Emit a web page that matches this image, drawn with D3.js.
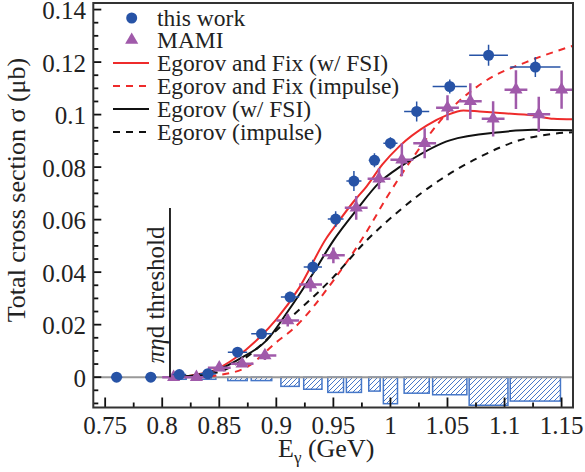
<!DOCTYPE html>
<html><head><meta charset="utf-8">
<script src="https://cdn.jsdelivr.net/npm/d3@7"></script>
<style>body{margin:0;background:#fff}svg{display:block}</style>
</head><body>
<script>
// ---- data ----
const thisX    = [0.76, 0.79, 0.815, 0.84, 0.866, 0.887, 0.912, 0.932, 0.952, 0.968, 0.986, 1.0, 1.023, 1.052, 1.086, 1.127];
const thisY    = [0, 0, 0.001, 0.0013, 0.0095, 0.0165, 0.0305, 0.042, 0.0602, 0.0747, 0.0826, 0.0891, 0.1012, 0.1107, 0.1226, 0.1181];
const thisYErr = [0.0004, 0.0005, 0.0008, 0.001, 0.0015, 0.0018, 0.002, 0.0027, 0.003, 0.0038, 0.0027, 0.0023, 0.0038, 0.0027, 0.004, 0.0038];
const thisXErr = [0.005, 0.005, 0.006, 0.007, 0.0085, 0.009, 0.008, 0.008, 0.0069, 0.0066, 0.005, 0.0062, 0.011, 0.015, 0.017, 0.022];
const thisSys  = [0, 0, 0.0008, 0.0008, 0.0013, 0.0013, 0.0035, 0.0046, 0.0058, 0.0058, 0.0053, 0.0101, 0.0061, 0.0067, 0.0107, 0.0091];

const mamiX    = [0.81, 0.83, 0.85, 0.87, 0.89, 0.91, 0.93, 0.95, 0.97, 0.99, 1.01, 1.03, 1.05, 1.07, 1.09, 1.11, 1.13, 1.15];
const mamiY    = [0, 0, 0.0036, 0.0051, 0.0083, 0.0216, 0.0353, 0.0464, 0.0645, 0.0756, 0.0828, 0.0891, 0.1026, 0.1051, 0.0984, 0.1095, 0.1001, 0.1095];
const mamiYErr = [0.0004, 0.0005, 0.0012, 0.0012, 0.0018, 0.0023, 0.0028, 0.003, 0.0045, 0.004, 0.0063, 0.0057, 0.0048, 0.0068, 0.0067, 0.0074, 0.0067, 0.0073];
const mamiXErr = [0.01, 0.01, 0.01, 0.01, 0.01, 0.01, 0.01, 0.01, 0.01, 0.01, 0.01, 0.01, 0.01, 0.01, 0.01, 0.01, 0.01, 0.01];

const efFsiX = [0.807, 0.82, 0.83, 0.845, 0.865, 0.885, 0.9, 0.92, 0.944, 0.952, 0.968, 0.979, 0.993, 1.008, 1.032, 1.049, 1.064, 1.078, 1.096, 1.125, 1.143, 1.16];
const efFsiY = [0, 0.0003, 0.001, 0.0026, 0.0076, 0.015, 0.022, 0.034, 0.053, 0.0578, 0.067, 0.0726, 0.081, 0.088, 0.0959, 0.0997, 0.1016, 0.1012, 0.1006, 0.0997, 0.0984, 0.0982];
const efImpX = [0.83, 0.85, 0.874, 0.9, 0.915, 0.95, 0.978, 0.997, 1.02, 1.049, 1.084, 1.119, 1.16];
const efImpY = [0, 0.0008, 0.0038, 0.0133, 0.0185, 0.0368, 0.0546, 0.0686, 0.0838, 0.1003, 0.113, 0.12, 0.1262];
const egFsiX = [0.807, 0.83, 0.85, 0.87, 0.8915, 0.91, 0.932, 0.95, 0.97, 0.99, 1.008, 1.017, 1.052, 1.096, 1.125, 1.16];
const egFsiY = [0, 0.0008, 0.003, 0.0075, 0.014, 0.025, 0.0394, 0.052, 0.0635, 0.074, 0.08, 0.0825, 0.0902, 0.0933, 0.0942, 0.094];
const egImpX = [0.82, 0.85, 0.875, 0.9, 0.95, 0.979, 1.008, 1.043, 1.078, 1.113, 1.143, 1.16];
const egImpY = [0, 0.002, 0.008, 0.0178, 0.0381, 0.052, 0.0635, 0.075, 0.0838, 0.0902, 0.0927, 0.0933];

const thresholdX = 0.8068;
const xTicks = [0.75, 0.8, 0.85, 0.9, 0.95, 1, 1.05, 1.1, 1.15];
const xTickLabels = ["0.75", "0.8", "0.85", "0.9", "0.95", "1", "1.05", "1.1", "1.15"];
const yTicks = [0, 0.02, 0.04, 0.06, 0.08, 0.1, 0.12, 0.14];
const yTickLabels = ["0", "0.02", "0.04", "0.06", "0.08", "0.1", "0.12", "0.14"];
const legendLabels = ["this work", "MAMI", "Egorov and Fix (w/ FSI)", "Egorov and Fix (impulse)", "Egorov (w/ FSI)", "Egorov (impulse)"];

// ---- drawing ----
const W = 585, H = 472;
const L = 93.3, R = 573, T = 3, B = 407.5;
const BLUE = "#2753a6", PURPLE = "#a05aaa", RED = "#ee2b2b", HATCH = "#4677c8";
const FONT = "'Liberation Serif', Tinos, 'Times New Roman', Times, 'DejaVu Serif', serif";

const x = d3.scaleLinear().domain([0.7396, 1.1600]).range([L, R]);
const y = d3.scaleLinear().domain([-0.01155, 0.1425]).range([B, T]);

const svg = d3.select("body").append("svg").attr("width", W).attr("height", H)
  .attr("font-family", FONT).style("font-family", FONT).attr("fill", "#222");
const defs = svg.append("defs");
defs.append("clipPath").attr("id", "clip").append("rect").attr("x", L).attr("y", T).attr("width", R - L).attr("height", B - T);
const pat = defs.append("pattern").attr("id", "hatch").attr("patternUnits", "userSpaceOnUse").attr("width", 5).attr("height", 5);
pat.append("path").attr("d", "M-1,6 L6,-1 M-2,1 L1,-2 M4,7 L7,4").attr("stroke", HATCH).attr("stroke-width", 1);

const g = svg.append("g").attr("clip-path", "url(#clip)");

// systematic bars
g.selectAll("rect.sys").data(thisX.map((d, i) => i).filter(i => thisSys[i] > 0)).enter().append("rect")
  .attr("x", i => x(thisX[i] - thisXErr[i])).attr("width", i => x(thisX[i] + thisXErr[i]) - x(thisX[i] - thisXErr[i]))
  .attr("y", y(0)).attr("height", i => y(-thisSys[i]) - y(0))
  .attr("fill", "url(#hatch)").attr("stroke", HATCH).attr("stroke-width", 1.5);

// zero line
g.append("line").attr("x1", L).attr("x2", R).attr("y1", y(0)).attr("y2", y(0)).attr("stroke", "#999").attr("stroke-width", 2);

// threshold
svg.append("line").attr("x1", x(thresholdX)).attr("x2", x(thresholdX)).attr("y1", 208).attr("y2", y(0)).attr("stroke", "#111").attr("stroke-width", 1.8);
const tt = svg.append("text").attr("transform", `translate(${x(thresholdX) - 6},${y(0) - 14}) rotate(-90)`).attr("font-size", 25);
tt.append("tspan").attr("font-style", "italic").text("πη");
tt.append("tspan").text("d threshold");

// curves
const line = d3.line().x(d => x(d[0])).y(d => y(d[1])).curve(d3.curveMonotoneX);
const curves = [
  [efFsiX, efFsiY, RED, null],
  [efImpX, efImpY, RED, "7,6"],
  [egFsiX, egFsiY, "#111", null],
  [egImpX, egImpY, "#111", "7,6"]
];
curves.forEach(([cx, cy, col, dash]) => {
  g.append("path").attr("d", line(cx.map((v, i) => [v, cy[i]]))).attr("fill", "none").attr("stroke", col).attr("stroke-width", 2).attr("stroke-dasharray", dash);
});

// MAMI
mamiX.forEach((v, i) => {
  g.append("line").attr("x1", x(v - mamiXErr[i])).attr("x2", x(v + mamiXErr[i])).attr("y1", y(mamiY[i])).attr("y2", y(mamiY[i])).attr("stroke", PURPLE).attr("stroke-width", 2.5);
  g.append("line").attr("x1", x(v)).attr("x2", x(v)).attr("y1", y(mamiY[i] - mamiYErr[i])).attr("y2", y(mamiY[i] + mamiYErr[i])).attr("stroke", PURPLE).attr("stroke-width", 2.5);
});
const tri = d3.symbol().type(d3.symbolTriangle).size(75);
g.selectAll("path.mami").data(mamiX.map((v, i) => [v, mamiY[i]])).enter().append("path")
  .attr("d", tri).attr("transform", d => `translate(${x(d[0])},${y(d[1])})`).attr("fill", PURPLE);

// this work
thisX.forEach((v, i) => {
  g.append("line").attr("x1", x(v - thisXErr[i])).attr("x2", x(v + thisXErr[i])).attr("y1", y(thisY[i])).attr("y2", y(thisY[i])).attr("stroke", BLUE).attr("stroke-width", 1.5);
  g.append("line").attr("x1", x(v)).attr("x2", x(v)).attr("y1", y(thisY[i] - thisYErr[i])).attr("y2", y(thisY[i] + thisYErr[i])).attr("stroke", BLUE).attr("stroke-width", 1.5);
});
g.selectAll("circle.tw").data(thisX.map((v, i) => [v, thisY[i]])).enter().append("circle")
  .attr("cx", d => x(d[0])).attr("cy", d => y(d[1])).attr("r", 5.5).attr("fill", BLUE);

// axes (ticks inside)
const xMinor = d3.range(0.75, 1.1501, 0.025);
const yMinor = d3.range(-0.01, 0.1401, 0.005);
svg.append("g").selectAll("line").data(xMinor).enter().append("line")
  .attr("x1", d => x(d)).attr("x2", d => x(d)).attr("y1", B)
  .attr("y2", d => B - (xTicks.some(t => Math.abs(t - d) < 1e-6) ? 10 : 5)).attr("stroke", "#111").attr("stroke-width", 1.8);
svg.append("g").selectAll("line").data(yMinor).enter().append("line")
  .attr("y1", d => y(d)).attr("y2", d => y(d)).attr("x1", L)
  .attr("x2", d => L + (yTicks.some(t => Math.abs(t - d) < 1e-6) ? 8 : 5)).attr("stroke", "#111").attr("stroke-width", 1.8);
svg.append("g").selectAll("text").data(xTicks).enter().append("text")
  .attr("x", d => x(d)).attr("y", 434).attr("text-anchor", "middle").attr("font-size", 25).text((d, i) => xTickLabels[i]);
svg.append("g").selectAll("text").data(yTicks).enter().append("text")
  .attr("x", 86).attr("y", d => y(d)).attr("dy", "0.38em").attr("text-anchor", "end").attr("font-size", 25).text((d, i) => yTickLabels[i]);

// frame
svg.append("rect").attr("x", L).attr("y", T).attr("width", R - L).attr("height", B - T).attr("fill", "none").attr("stroke", "#333").attr("stroke-width", 2);

// axis titles
const xt = svg.append("text").attr("x", 278).attr("y", 457).attr("font-size", 26);
xt.append("tspan").text("E");
xt.append("tspan").attr("font-size", 17).attr("dy", 6).text("γ");
xt.append("tspan").attr("dy", -6).text(" (GeV)");
svg.append("text").attr("transform", "translate(25,190) rotate(-90)").attr("text-anchor", "middle").attr("font-size", 26).text("Total cross section σ (μb)");

// legend
const lg = svg.append("g");
const rows = [18, 40, 63, 86, 109, 132];
lg.append("circle").attr("cx", 131.7).attr("cy", rows[0]).attr("r", 5.5).attr("fill", BLUE);
lg.append("path").attr("d", tri).attr("transform", `translate(131.7,${rows[1]})`).attr("fill", PURPLE);
curves.forEach(([cx, cy, col, dash], i) => {
  lg.append("line").attr("x1", 113).attr("x2", 149).attr("y1", rows[i + 2]).attr("y2", rows[i + 2]).attr("stroke", col).attr("stroke-width", 2).attr("stroke-dasharray", dash);
});
lg.selectAll("text").data(legendLabels).enter().append("text")
  .attr("x", 157).attr("y", (d, i) => rows[i]).attr("dy", "0.35em").attr("font-size", 23.5).text(d => d);
</script>
</body></html>
